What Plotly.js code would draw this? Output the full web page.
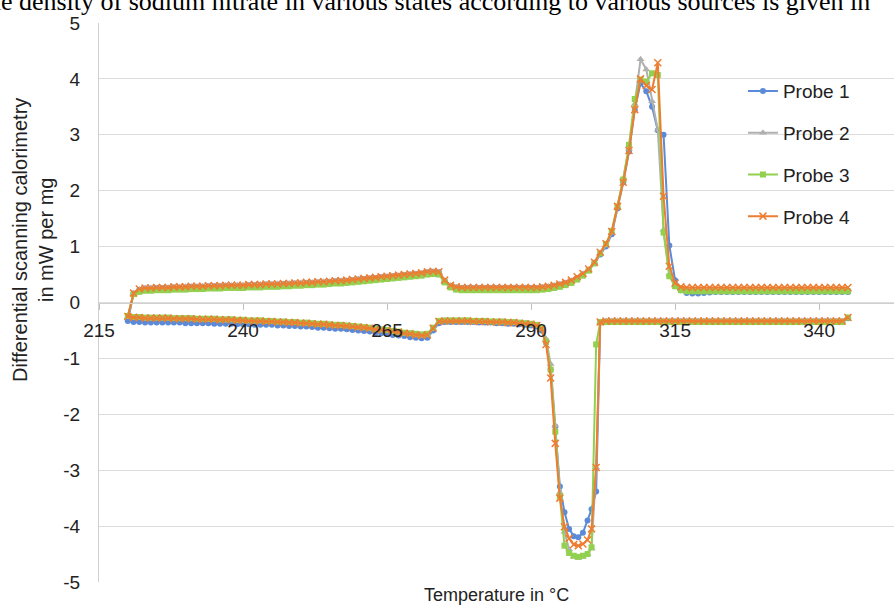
<!DOCTYPE html>
<html>
<head>
<meta charset="utf-8">
<script src="https://cdn.plot.ly/plotly-3.0.1.min.js"></script>
<style>html,body{margin:0;padding:0;background:#fff;}#chart{width:894px;height:605px;}</style>
</head>
<body>
<div id="chart"></div>
<script>
// Heating branch temperatures (°C)
const heatT = [221,222,223,224,225,226,227,228,229,230,231,232,233,234,235,236,237,238,239,240,
241,242,243,244,245,246,247,248,249,250,251,252,253,254,255,256,257,258,259,260,
261,262,263,264,265,266,267,268,269,270,271,272,273,274,275,276,277,278,279,280,
281,282,283,284,285,286,287,288,289,290,291,292,293,294,295,296,297,298,299,300,
301,302,303,304,305,306,307,308,309,310,311,312,313,314,315,316,317,318,319,320,
321,322,323,324,325,326,327,328,329,330,331,332,333,334,335,336,337,338,339,340,
341,342,343,344,345];

// Cooling branch temperatures (°C), in measurement order
const coolT = [345,344,343,342,341,340,339,338,337,336,335,334,333,332,331,330,329,328,327,326,
325,324,323,322,321,320,319,318,317,316,315,314,313,312,311,310,309,308,307,306,
305,304,303,302,301.3,300.5,299.8,299,298.2,297.4,296.6,295.8,295,294.2,293.4,292.6,291.8,
291,290,289,288,287,286,285,284,283,282,281,280,279,278,277,276,275,274,
273,272,271,270,269,268,267,266,265,264,263,262,261,260,259,258,257,256,255,254,
253,252,251,250,249,248,247,246,245,244,243,242,241,240,239,238,237,236,235,234,
233,232,231,230,229,228,227,226,225,224,223,222,221,220];

// Probe 1
const heat1 = [0.16,0.23,0.25,0.25,0.26,0.26,0.26,0.27,0.27,0.27,
0.28,0.28,0.28,0.29,0.29,0.29,0.30,0.30,0.30,0.30,
0.31,0.31,0.31,0.32,0.32,0.32,0.33,0.33,0.34,0.34,
0.35,0.35,0.36,0.36,0.37,0.38,0.38,0.39,0.40,0.41,
0.42,0.43,0.44,0.45,0.46,0.47,0.48,0.49,0.50,0.51,
0.52,0.54,0.55,0.54,0.39,0.30,0.27,0.26,0.26,0.26,
0.26,0.26,0.26,0.26,0.26,0.26,0.26,0.26,0.26,0.26,
0.26,0.27,0.28,0.30,0.32,0.35,0.38,0.44,0.50,0.58,
0.70,0.86,1.00,1.22,1.68,2.15,2.70,3.45,3.92,3.78,
3.50,3.08,3.00,1.02,0.40,0.22,0.17,0.16,0.16,0.17,
0.18,0.19,0.19,0.19,0.19,0.19,0.19,0.19,0.19,0.19,
0.19,0.19,0.19,0.19,0.19,0.19,0.19,0.19,0.19,0.19,
0.19,0.19,0.19,0.19,0.19];
const cool1 = [-0.28,-0.34,-0.34,-0.34,-0.34,-0.34,-0.34,-0.34,-0.34,-0.34,-0.34,
-0.34,-0.34,-0.34,-0.34,-0.34,-0.34,-0.34,-0.34,-0.34,-0.34,
-0.34,-0.34,-0.34,-0.34,-0.34,-0.34,-0.34,-0.34,-0.34,-0.34,
-0.34,-0.34,-0.34,-0.34,-0.34,-0.34,-0.34,-0.34,-0.34,-0.34,-0.34,-0.34,
-0.36,
-3.38,-3.70,-3.90,-4.12,-4.20,-4.18,-4.05,-3.75,-3.29,-2.22,-1.20,-0.72,-0.50,
-0.43,-0.41,-0.40,-0.39,-0.38,-0.38,-0.37,-0.37,-0.36,-0.36,
-0.36,-0.35,-0.35,-0.35,-0.35,-0.35,-0.35,
-0.37,
-0.50,-0.63,-0.64,-0.63,-0.62,-0.60,-0.59,-0.58,-0.56,-0.55,
-0.54,-0.52,-0.51,-0.50,-0.49,-0.48,-0.47,-0.47,-0.46,-0.45,
-0.45,-0.44,-0.43,-0.43,-0.42,-0.42,-0.41,-0.41,-0.40,-0.40,
-0.40,-0.40,-0.39,-0.39,-0.39,-0.38,-0.38,-0.38,-0.38,-0.37,
-0.37,-0.37,-0.37,-0.37,-0.36,-0.36,-0.36,-0.36,-0.36,-0.36,
-0.36,-0.35,-0.35,-0.33];

// Probe 2
const heat2 = [0.16,0.23,0.25,0.26,0.26,0.26,0.27,0.27,0.27,0.28,
0.28,0.28,0.29,0.29,0.29,0.30,0.30,0.30,0.31,0.31,
0.31,0.31,0.32,0.32,0.32,0.33,0.33,0.34,0.34,0.35,
0.35,0.36,0.36,0.37,0.37,0.38,0.39,0.39,0.40,0.41,
0.42,0.43,0.44,0.45,0.46,0.47,0.48,0.49,0.50,0.51,
0.52,0.54,0.55,0.54,0.39,0.30,0.27,0.26,0.26,0.26,
0.26,0.26,0.26,0.26,0.26,0.26,0.26,0.26,0.26,0.26,
0.26,0.27,0.28,0.30,0.32,0.35,0.39,0.44,0.51,0.59,
0.71,0.88,1.02,1.25,1.70,2.20,2.75,3.55,4.35,4.17,
3.60,3.09,1.30,0.50,0.30,0.25,0.23,0.23,0.23,0.23,
0.23,0.23,0.23,0.23,0.23,0.23,0.23,0.23,0.23,0.23,
0.23,0.23,0.23,0.23,0.23,0.23,0.23,0.23,0.23,0.23,
0.23,0.23,0.23,0.23,0.23];
const cool2 = [-0.27,-0.33,-0.33,-0.33,-0.33,-0.33,-0.33,-0.33,-0.33,-0.33,-0.33,
-0.33,-0.33,-0.33,-0.33,-0.33,-0.33,-0.33,-0.33,-0.33,-0.33,
-0.33,-0.33,-0.33,-0.33,-0.33,-0.33,-0.33,-0.33,-0.33,-0.33,
-0.33,-0.33,-0.33,-0.33,-0.33,-0.33,-0.33,-0.33,-0.33,-0.33,-0.33,-0.33,
-0.35,
-2.95,-4.40,-4.50,-4.55,-4.57,-4.55,-4.42,-4.10,-3.40,-2.20,-1.10,-0.65,-0.45,
-0.41,-0.39,-0.38,-0.37,-0.36,-0.36,-0.35,-0.35,-0.35,-0.34,
-0.34,-0.34,-0.33,-0.33,-0.33,-0.33,-0.33,
-0.35,
-0.47,-0.59,-0.60,-0.59,-0.57,-0.56,-0.54,-0.53,-0.51,-0.50,
-0.49,-0.47,-0.46,-0.45,-0.44,-0.43,-0.42,-0.42,-0.41,-0.40,
-0.40,-0.39,-0.38,-0.38,-0.37,-0.37,-0.36,-0.36,-0.35,-0.35,
-0.34,-0.34,-0.34,-0.33,-0.33,-0.32,-0.32,-0.32,-0.31,-0.31,
-0.31,-0.31,-0.30,-0.30,-0.30,-0.30,-0.29,-0.29,-0.29,-0.29,
-0.29,-0.28,-0.28,-0.26];

// Probe 3
const heat3 = [0.15,0.19,0.21,0.21,0.22,0.22,0.22,0.23,0.23,0.23,
0.24,0.24,0.24,0.25,0.25,0.25,0.26,0.26,0.26,0.26,
0.27,0.27,0.27,0.28,0.28,0.28,0.29,0.29,0.30,0.30,
0.31,0.31,0.32,0.32,0.33,0.34,0.34,0.35,0.36,0.37,
0.38,0.39,0.40,0.41,0.42,0.43,0.44,0.45,0.46,0.47,
0.48,0.50,0.51,0.50,0.36,0.27,0.23,0.22,0.22,0.22,
0.22,0.22,0.22,0.22,0.22,0.22,0.22,0.22,0.22,0.22,
0.22,0.23,0.24,0.26,0.28,0.31,0.35,0.41,0.48,0.57,
0.70,0.88,1.05,1.28,1.72,2.20,2.82,3.64,3.99,3.95,
4.10,4.07,1.25,0.47,0.29,0.22,0.20,0.20,0.20,0.20,
0.20,0.20,0.20,0.20,0.20,0.20,0.20,0.20,0.20,0.20,
0.20,0.20,0.20,0.20,0.20,0.20,0.20,0.20,0.20,0.20,
0.20,0.20,0.20,0.20,0.20];
const cool3 = [-0.27,-0.35,-0.35,-0.35,-0.35,-0.35,-0.35,-0.35,-0.35,-0.35,-0.35,
-0.35,-0.35,-0.35,-0.35,-0.35,-0.35,-0.35,-0.35,-0.35,-0.35,
-0.35,-0.35,-0.35,-0.35,-0.35,-0.35,-0.35,-0.35,-0.35,-0.35,
-0.35,-0.35,-0.35,-0.35,-0.35,-0.35,-0.35,-0.35,-0.35,-0.35,-0.35,-0.35,
-0.35,
-0.75,-4.38,-4.50,-4.53,-4.55,-4.53,-4.48,-4.35,-3.47,-2.31,-1.20,-0.70,-0.45,
-0.40,-0.38,-0.37,-0.36,-0.35,-0.35,-0.34,-0.34,-0.34,-0.33,
-0.33,-0.33,-0.32,-0.32,-0.32,-0.32,-0.32,
-0.33,
-0.45,-0.56,-0.57,-0.56,-0.55,-0.54,-0.52,-0.51,-0.49,-0.48,
-0.47,-0.45,-0.44,-0.43,-0.42,-0.41,-0.40,-0.40,-0.39,-0.38,
-0.38,-0.37,-0.36,-0.36,-0.35,-0.35,-0.34,-0.34,-0.33,-0.33,
-0.32,-0.32,-0.32,-0.31,-0.31,-0.30,-0.30,-0.30,-0.29,-0.29,
-0.29,-0.29,-0.28,-0.28,-0.28,-0.28,-0.27,-0.27,-0.27,-0.27,
-0.27,-0.26,-0.26,-0.24];

// Probe 4
const heat4 = [0.17,0.24,0.26,0.26,0.27,0.27,0.27,0.28,0.28,0.28,
0.29,0.29,0.29,0.30,0.30,0.30,0.31,0.31,0.31,0.31,
0.32,0.32,0.32,0.33,0.33,0.33,0.34,0.34,0.35,0.35,
0.36,0.36,0.37,0.37,0.38,0.39,0.39,0.40,0.41,0.42,
0.43,0.44,0.45,0.46,0.47,0.48,0.49,0.50,0.51,0.52,
0.53,0.55,0.56,0.55,0.40,0.31,0.28,0.27,0.27,0.27,
0.27,0.27,0.27,0.27,0.27,0.27,0.27,0.27,0.27,0.27,
0.27,0.28,0.29,0.31,0.33,0.36,0.40,0.46,0.52,0.60,
0.72,0.90,1.05,1.27,1.72,2.15,2.72,3.45,4.00,3.88,
3.81,4.29,1.90,0.65,0.35,0.28,0.27,0.27,0.27,0.27,
0.27,0.27,0.27,0.27,0.27,0.27,0.27,0.27,0.27,0.27,
0.27,0.27,0.27,0.27,0.27,0.27,0.27,0.27,0.27,0.27,
0.27,0.27,0.27,0.27,0.27];
const cool4 = [-0.27,-0.33,-0.33,-0.33,-0.33,-0.33,-0.33,-0.33,-0.33,-0.33,-0.33,
-0.33,-0.33,-0.33,-0.33,-0.33,-0.33,-0.33,-0.33,-0.33,-0.33,
-0.33,-0.33,-0.33,-0.33,-0.33,-0.33,-0.33,-0.33,-0.33,-0.33,
-0.33,-0.33,-0.33,-0.33,-0.33,-0.33,-0.33,-0.33,-0.33,-0.33,-0.33,-0.33,
-0.35,
-2.95,-4.05,-4.25,-4.32,-4.35,-4.33,-4.22,-4.01,-3.50,-2.52,-1.35,-0.75,-0.47,
-0.41,-0.39,-0.38,-0.37,-0.36,-0.36,-0.35,-0.35,-0.35,-0.34,
-0.34,-0.34,-0.33,-0.33,-0.33,-0.33,-0.33,
-0.34,
-0.46,-0.58,-0.59,-0.58,-0.56,-0.55,-0.53,-0.52,-0.50,-0.49,
-0.48,-0.46,-0.45,-0.44,-0.43,-0.42,-0.41,-0.41,-0.40,-0.39,
-0.39,-0.38,-0.37,-0.37,-0.36,-0.36,-0.35,-0.35,-0.34,-0.34,
-0.33,-0.33,-0.33,-0.32,-0.32,-0.31,-0.31,-0.31,-0.30,-0.30,
-0.30,-0.30,-0.29,-0.29,-0.29,-0.29,-0.28,-0.28,-0.28,-0.28,
-0.28,-0.27,-0.27,-0.25];

const probeNames = ['Probe 1','Probe 2','Probe 3','Probe 4'];
const xTicks = [215,240,265,290,315,340];
const yTicks = [-5,-4,-3,-2,-1,0,1,2,3,4,5];

const colors = ['#5b8bd8','#b0b0b0','#92d050','#ed7d31'];
const symbols = ['circle','triangle-up','square','x-thin'];
const sizes = [6,7,6,7];
const heats = [heat1,heat2,heat3,heat4];
const cools = [cool1,cool2,cool3,cool4];

const traces = probeNames.map((name,i)=>({
  type:'scatter', mode:'lines+markers', name:name, legendgroup:'g'+i,
  x: coolT.concat(heatT), y: cools[i].concat(heats[i]),
  line:{color:colors[i], width:2},
  marker:{symbol:symbols[i], size:sizes[i], color:colors[i],
          line:{color:colors[i], width: i===3?1.5:0}},
  cliponaxis:false
}));

const layout = {
  width:894, height:605,
  margin:{l:99, r:0, t:23, b:23},
  paper_bgcolor:'#fff', plot_bgcolor:'#fff',
  font:{family:'"Liberation Sans", Arial, sans-serif', size:19, color:'#222'},
  showlegend:true,
  legend:{x:0.81, xanchor:'left', y:0.912, yanchor:'top', bgcolor:'rgba(0,0,0,0)',
          font:{size:19, color:'#222'}, tracegroupgap:14, traceorder:'grouped'},
  xaxis:{range:[215,353], tickvals:xTicks, ticktext:xTicks.map(String),
         anchor:'free', position:0.5, showgrid:false, zeroline:false,
         showline:true, linecolor:'#d0d0d0', linewidth:1,
         ticks:'outside', ticklen:6, tickcolor:'#c0c0c0', tickwidth:1,
         ticklabelstandoff:5, tickfont:{size:19, color:'#222'}},
  xaxis2:{range:[215,353], overlaying:'x', anchor:'free', position:0.5,
         tickvals:xTicks, showticklabels:false, showgrid:false, zeroline:false,
         showline:false, ticks:'inside', ticklen:6, tickcolor:'#c0c0c0', tickwidth:1},
  yaxis:{range:[-5,5], tickvals:yTicks, ticktext:yTicks.map(String),
         showgrid:true, gridcolor:'#dcdcdc', gridwidth:1, zeroline:false,
         showline:true, linecolor:'#d0d0d0', linewidth:1, ticks:'',
         ticklabelstandoff:14, tickfont:{size:19, color:'#222'}},
  annotations:[
    {text:'Differential scanning calorimetry<br>in mW per mg', xref:'paper', yref:'paper',
     x:-0.083, y:0.612, xanchor:'center', yanchor:'middle', textangle:-90, showarrow:false,
     font:{size:20, color:'#222'}},
    {text:'Temperature in °C', xref:'paper', yref:'paper', x:0.4994, y:-0.023,
     xanchor:'center', yanchor:'middle', showarrow:false, font:{size:18, color:'#222'}},
    {text:'The density of sodium nitrate in various states according to various sources is given in', xref:'paper', yref:'paper',
     x:-0.162, y:1.0095, xanchor:'left', yanchor:'bottom', showarrow:false,
     font:{family:'"Liberation Serif", "Times New Roman", serif', size:26, color:'#000'}}
  ]
};

Plotly.newPlot('chart', traces, layout, {displayModeBar:false, staticPlot:true});
</script>
</body>
</html>
